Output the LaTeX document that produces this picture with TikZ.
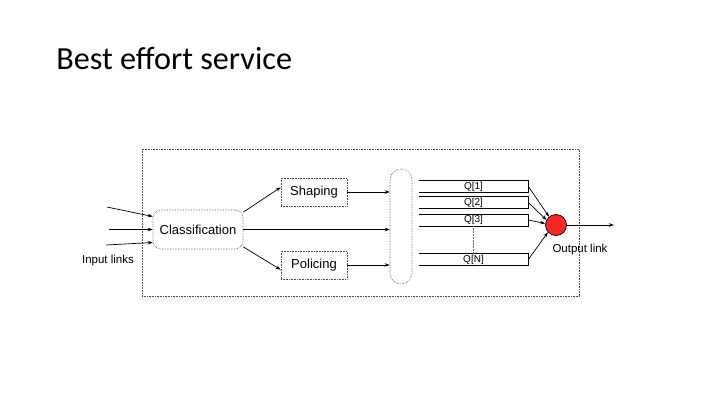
\documentclass[tikz,border=0pt]{standalone}
\usepackage{fontspec}
\setmainfont{Liberation Sans}
\newfontfamily\titlefont{Carlito}
\usetikzlibrary{arrows.meta}
\definecolor{outred}{RGB}{250,40,30}
\begin{document}
\begin{tikzpicture}[x=1pt, y=-1pt, line width=0.7pt,
    >={Stealth[length=5pt,width=3.5pt]},
    dotbox/.style={draw=black!70, densely dotted, line width=0.6pt, font=\fontsize{13}{15}\selectfont},
    queue/.style={minimum width=109pt, minimum height=11.5pt, inner sep=0pt, font=\fontsize{10}{11}\selectfont},
    small/.style={font=\fontsize{11.5}{13}\selectfont}]
            \useasboundingbox (0,0) rectangle (720,405);

            \node[anchor=base west, inner sep=0pt, font=\titlefont\fontsize{32.2}{38}\selectfont] (title) at (56,69) {Best effort service};

            % frame
            \draw[black!70, densely dotted, line width=0.6pt] (142,149) rectangle (579,296);

            \node[dotbox, rounded corners=8pt, minimum width=90pt, minimum height=39pt, inner sep=0pt] (cls) at (198,229.5) {Classification};
            \node[dotbox, minimum width=66pt, minimum height=28pt, inner sep=0pt] (shp) at (314,192) {Shaping};
            \node[dotbox, minimum width=66pt, minimum height=28pt, inner sep=0pt] (pol) at (314,265) {Policing};
            \node[dotbox, rounded corners=11pt, minimum width=22pt, minimum height=115pt, inner sep=0pt] (pill) at (401,226.5) {};

            \node[queue] (q1) at (473.5,186.5) {Q[1]};
            \node[queue] (q2) at (473.5,202.5) {Q[2]};
            \node[queue] (q3) at (473.5,220) {Q[3]};
            \node[queue] (qn) at (473.5,259.5) {Q[N]};
            \foreach \q in {q1,q2,q3,qn}
                \draw (\q.north west) -- (\q.north east) -- (\q.south east) -- (\q.south west);
            \draw[black!60, densely dotted, line width=0.5pt] (q3.south) -- (qn.north);

            \node[circle, draw, fill=outred, minimum size=21pt, inner sep=0pt] (out) at (556,225) {};

            % inputs
            \coordinate (in1) at (107,207);
            \coordinate (in2) at (109,229.5);
            \coordinate (in3) at (106,245);
            \draw[->] (in1) -- (cls.164);
            \draw[->] (in2) -- (cls.west);
            \draw[->] (in3) -- (cls.196);
            \node[small] (inlbl) at (108,261) {Input links};

            \draw[->] (cls.21) -- (shp.172);
            \draw[->] (cls.339) -- (pol.188);
            \draw[->] (cls.east) -- (cls.east -| pill.west);
            \draw[->] (shp.east) -- (shp.east -| pill.west);
            \draw[->] (pol.east) -- (pol.east -| pill.west);

            \draw[->] (q1.east) -- (out.130);
            \draw[->] (q2.east) -- (out.152);
            \draw[->] (q3.east) -- (out.172);
            \draw[->] (qn.east) -- (out.222);

            \coordinate (outend) at (614,225);
            \draw[->] (out.east) -- (outend);
            \node[small] (outlbl) at (580,250) {Output link};
\end{tikzpicture}
\end{document}
